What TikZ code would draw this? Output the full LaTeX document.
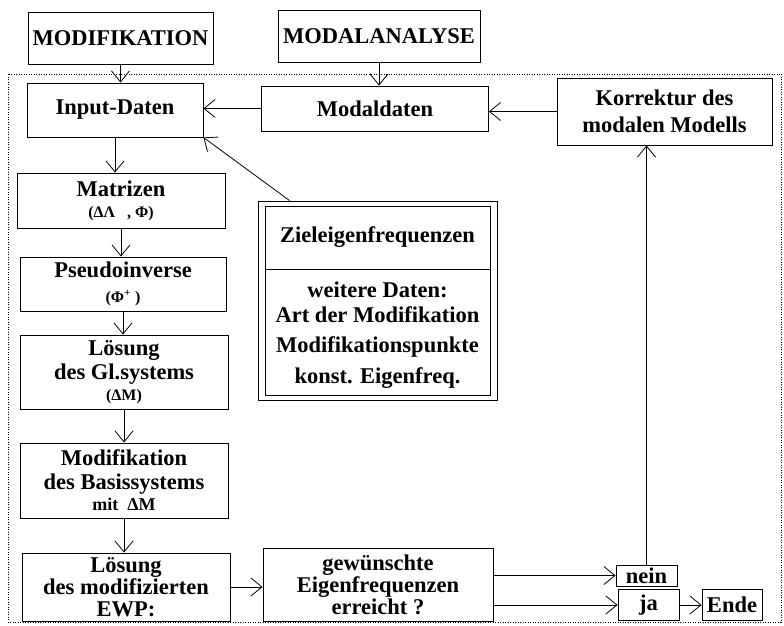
\documentclass[tikz,border=0pt]{standalone}
\usepackage{fontspec}
\setmainfont{Liberation Serif}
\usetikzlibrary{arrows.meta}
\begin{document}
\begin{tikzpicture}[x=1pt,y=-1pt,
  box/.style={draw, line width=0.9pt, align=center, inner sep=0pt,
    font=\bfseries\fontsize{22.5}{24}\selectfont},
  txt/.style={inner sep=0pt, align=center, font=\bfseries\fontsize{22.5}{24}\selectfont},
  arr/.style={line width=0.8pt, -{Straight Barb[length=11pt,width=18pt]}},
  ln/.style={line width=0.8pt}]
\useasboundingbox (0,0) rectangle (784,626);
\draw[line width=0.8pt, dash pattern=on 1pt off 1.5pt] (8,74) rectangle (781,622);

\node[box, minimum width=185pt, minimum height=52pt] (mod) at (120.5,38) {MODIFIKATION};
\node[box, minimum width=202pt, minimum height=52pt] (mana) at (379,36) {MODALANALYSE};
\node[box, minimum width=176pt, minimum height=54pt] (input) at (115,110) {Input-Daten};
\node[box, minimum width=227pt, minimum height=45pt] (modal) at (375,108.5) {Modaldaten};
\node[box, minimum width=215pt, minimum height=67pt] (korr) at (664.5,111.5) {Korrektur des\\[3pt]modalen Modells};

\node[box, minimum width=208pt, minimum height=55pt] (matr) at (121,200.5)
  {Matrizen\\[-3pt]{\fontsize{16}{18}\selectfont (ΔΛ\ \ \ , Φ)}};
\node[box, minimum width=206pt, minimum height=54pt] (pseudo) at (123,284)
  {Pseudoinverse\\[1pt]{\fontsize{16}{18}\selectfont (Φ\textsuperscript{+} )}};
\node[box, minimum width=208pt, minimum height=74pt] (gl) at (124,372)
  {Lösung\\des Gl.systems\\[-3pt]{\fontsize{16}{18}\selectfont (ΔM)}};
\node[box, minimum width=208pt, minimum height=75pt] (basis) at (124,480.5)
  {Modifikation\\des Basissystems\\[-3pt]{\fontsize{18}{20}\selectfont mit\ \ ΔM}};
\node[box, minimum width=208pt, minimum height=68pt] (ewp) at (126,587)
  {Lösung\\[-2pt]des modifizierten\\[-2pt]EWP:};

\node[box, minimum width=239pt, minimum height=199pt] (ziel) at (377.5,300.5) {};
\node[draw, line width=0.9pt, inner sep=0pt, minimum width=225pt, minimum height=189pt] (zinner) at (377.5,300.5) {};
\coordinate (dl) at (265,269);
\coordinate (dr) at (490,269);
\draw[ln] (dl) -- (dr);
\node[txt] (z1) at (377.5,237) {Zieleigenfrequenzen};
\node[txt] (z2) at (377.5,290) {weitere Daten:};
\node[txt] (z3) at (377.5,315) {Art der Modifikation};
\node[txt] (z4) at (377.5,347) {Modifikationspunkte};
\node[txt] (z5) at (377.5,378) {konst. Eigenfreq.};

\node[box, minimum width=230pt, minimum height=73pt] (gew) at (378,584.5)
  {gewünschte\\[-2pt]Eigenfrequenzen\\[-2pt]erreicht ?};
\node[box, minimum width=61pt, minimum height=21pt] (nein) at (646.5,575.5) {nein};
\node[box, minimum width=61pt, minimum height=31pt] (ja) at (648.5,605) {ja};
\node[box, minimum width=60pt, minimum height=31pt] (ende) at (732,605) {Ende};

% connectors
\draw[arr] (mod.south) -- (mod.south |- input.north);
\draw[arr] (mana.south) -- (mana.south |- modal.north);
\draw[arr] (modal.west) -- (modal.west -| input.east);
\draw[arr] (korr.west) -- (korr.west -| modal.east);
\draw[arr] (input.south) -- (input.south |- matr.north);
\draw[arr] (matr.south) -- (matr.south |- pseudo.north);
\draw[arr] (pseudo.south) -- (pseudo.south |- gl.north);
\draw[arr] (gl.south) -- (gl.south |- basis.north);
\draw[arr] (basis.south) -- (basis.south |- ewp.north);
\draw[arr] ([xshift=32pt]ziel.north west) -- (input.south east);
\draw[arr] (ewp.east) -- (ewp.east -| gew.west);
\draw[arr] (gew.east |- nein) -- (nein.west);
\draw[arr] (gew.east |- ja) -- (ja.west);
\draw[arr] (ja.east) -- (ende.west);
\draw[arr] (nein.north) -- (nein.north |- korr.south);
\end{tikzpicture}
\end{document}
